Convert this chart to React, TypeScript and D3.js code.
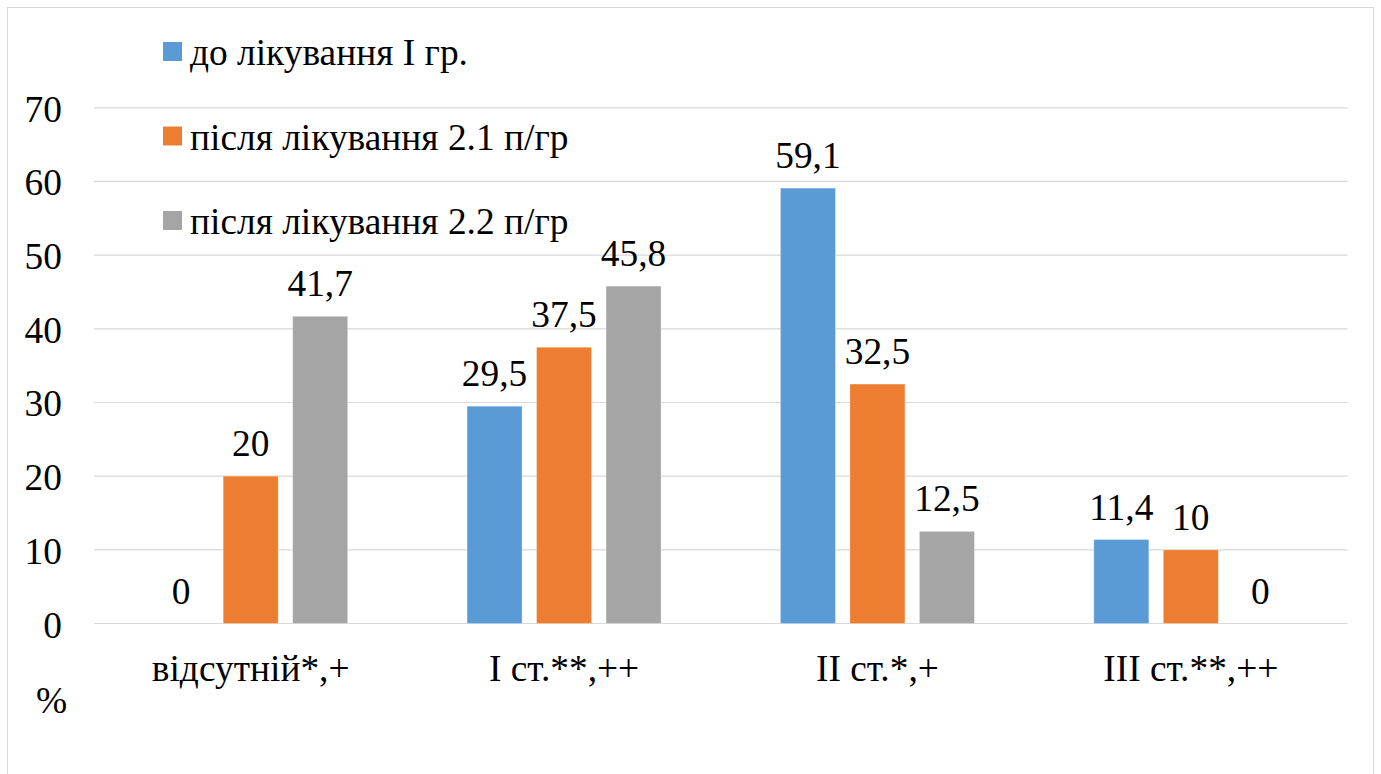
import React from "react";
import * as d3 from "d3";

const categories = ["відсутній*,+", "І ст.**,++", "ІІ ст.*,+", "ІІІ ст.**,++"];
const seriesNames = ["до лікування І гр.", "після лікування 2.1 п/гр", "після лікування 2.2 п/гр"];
const seriesColors = ["#5B9BD5", "#ED7D31", "#A5A5A5"];
const seriesBefore = [0, 29.5, 59.1, 11.4];
const seriesAfter21 = [20, 37.5, 32.5, 10];
const seriesAfter22 = [41.7, 45.8, 12.5, 0];
const yTicks = [0, 10, 20, 30, 40, 50, 60, 70];

const allSeries = [seriesBefore, seriesAfter21, seriesAfter22];
const txt: React.CSSProperties = { fontFamily: "'Liberation Serif', 'Times New Roman', serif", fontSize: "37.4px" };

export default function App() {
  const W = 1381, H = 774;
  const plotL = 94, plotR = 1347.5, y0 = 623.5, y70 = 107.8;
  const x = d3.scaleBand<string>().domain(categories).range([plotL, plotR]).padding(0);
  const bw = x.bandwidth();
  const groupW = bw * 0.619;
  const inner = d3
    .scaleBand<number>()
    .domain([0, 1, 2])
    .range([(bw - groupW) / 2, (bw + groupW) / 2])
    .paddingInner(0.2086)
    .paddingOuter(0);
  const y = d3.scaleLinear().domain([0, 70]).range([y0, y70]);
  const fmt = (v: number) => String(v).replace(".", ",");

  return (
    <svg width={W} height={H} style={{ position: "absolute", left: 0, top: 0, background: "#fff" }}>
      <rect x={7.5} y={7.5} width={1366} height={790} fill="#fff" stroke="#d9d9d9" strokeWidth={1} />
      {yTicks.map((t) => (
        <g key={t}>
          <line x1={plotL} x2={plotR} y1={y(t)} y2={y(t)} stroke="#d9d9d9" strokeWidth={1.2} />
          <text x={62} y={y(t) + 14} textAnchor="end" style={txt} fill="#000">
            {t}
          </text>
        </g>
      ))}
      {categories.map((c, ci) => (
        <g key={c} transform={`translate(${x(c)},0)`}>
          {allSeries.map((s, si) => {
            const v = s[ci];
            const bx = inner(si)!;
            return (
              <g key={si}>
                {v > 0 && (
                  <rect
                    x={bx}
                    y={y(v)}
                    width={inner.bandwidth()}
                    height={y(0) - y(v)}
                    fill={seriesColors[si]}
                    stroke="#ffffff"
                    strokeOpacity={0.35}
                    strokeWidth={0.8}
                  />
                )}
                <text x={bx + inner.bandwidth() / 2} y={y(v) - 20} textAnchor="middle" style={txt} fill="#000">
                  {fmt(v)}
                </text>
              </g>
            );
          })}
          <text x={bw / 2} y={680.5} textAnchor="middle" style={txt} fill="#000">
            {c}
          </text>
        </g>
      ))}
      <text x={51.5} y={713} textAnchor="middle" style={txt} fill="#000">
        %
      </text>
      {seriesNames.map((n, i) => {
        const cy = 51.5 + i * 84.5;
        return (
          <g key={n}>
            <rect x={163} y={cy - 9.5} width={19} height={19} fill={seriesColors[i]} />
            <text x={190} y={cy + 13.5} style={txt} fill="#000">
              {n}
            </text>
          </g>
        );
      })}
    </svg>
  );
}
